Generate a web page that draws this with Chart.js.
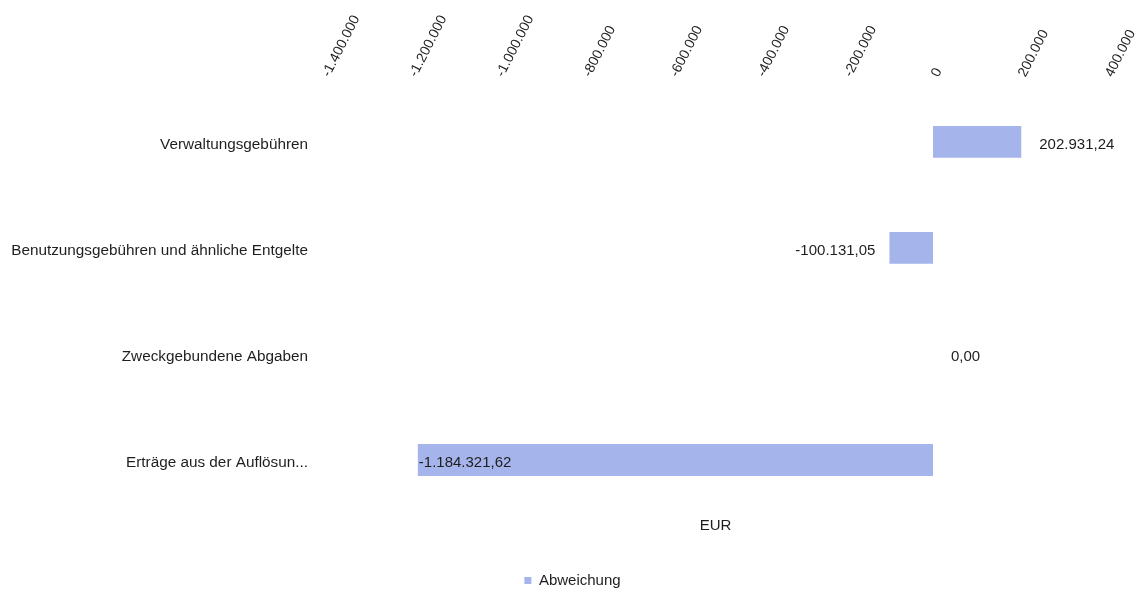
<!DOCTYPE html>
<html>
<head>
<meta charset="utf-8">
<script src="https://cdn.jsdelivr.net/npm/chart.js@4.4.1/dist/chart.umd.min.js"></script>
<style>
html,body{margin:0;padding:0;background:#fff;}
#wrap{width:1145px;height:590px;}
</style>
</head>
<body>
<div id="wrap"><canvas id="c" width="1145" height="590"></canvas></div>
<script>
const categories = ["Verwaltungsgebühren", "Benutzungsgebühren und ähnliche Entgelte", "Zweckgebundene Abgaben", "Erträge aus der Auflösun..."];
const abweichung = [202931.24, -100131.05, 0, -1184321.62];
const seriesName = "Abweichung";
const axisTitle = "EUR";
const xMin = -1400000, xMax = 400000, xStep = 200000;

const barColor = "rgb(166,180,236)";
const FONT = "'Liberation Sans', Arial, sans-serif";
const TXT = "#1e1e1e";

const fmtTick = v => new Intl.NumberFormat('de-DE', {maximumFractionDigits: 0}).format(v);
const fmtVal = v => new Intl.NumberFormat('de-DE', {minimumFractionDigits: 2, maximumFractionDigits: 2}).format(v);

const valueLabels = {
  id: 'valueLabels',
  afterDatasetsDraw(chart) {
    const ctx = chart.ctx;
    const meta = chart.getDatasetMeta(0);
    const area = chart.chartArea;
    ctx.save();
    ctx.font = "15px " + FONT;
    ctx.fillStyle = TXT;
    ctx.textBaseline = "middle";
    meta.data.forEach((bar, i) => {
      const v = chart.data.datasets[0].data[i];
      const txt = fmtVal(v);
      const w = ctx.measureText(txt).width;
      const y = bar.y + 3;
      if (v >= 0) {
        ctx.textAlign = "left";
        ctx.fillText(txt, bar.x + 18, y);
      } else {
        const outside = bar.x - 14 - w;
        if (outside < area.left) {
          ctx.textAlign = "left";
          ctx.fillText(txt, bar.x + 1, y);
        } else {
          ctx.textAlign = "right";
          ctx.fillText(txt, bar.x - 14, y);
        }
      }
    });
    ctx.restore();
  }
};

new Chart(document.getElementById('c'), {
  type: 'bar',
  data: {
    labels: categories,
    datasets: [{
      label: seriesName,
      data: abweichung,
      backgroundColor: barColor,
      borderWidth: 0,
      barPercentage: 0.30,
      categoryPercentage: 1.0,
      xAxisID: 'x'
    }]
  },
  options: {
    indexAxis: 'y',
    responsive: false,
    animation: false,
    devicePixelRatio: 1,
    layout: { padding: { left: 10, right: 10, top: 3.5, bottom: -8 } },
    plugins: {
      legend: {
        position: 'bottom',
        labels: {
          boxWidth: 7, boxHeight: 7, padding: 1,
          color: TXT,
          font: { family: FONT, size: 15 }
        }
      },
      tooltip: { enabled: false }
    },
    scales: {
      x: {
        position: 'top',
        min: xMin, max: xMax,
        grid: { display: false, drawTicks: false },
        border: { display: false },
        afterFit: s => { s.paddingLeft = 0; s.paddingRight = 38; },
        ticks: {
          stepSize: xStep,
          minRotation: 63, maxRotation: 63,
          padding: 9,
          labelOffset: 17,
          color: TXT,
          font: { family: FONT, size: 14 },
          callback: v => fmtTick(v)
        }
      },
      x2: {
        position: 'bottom',
        type: 'linear',
        min: xMin, max: xMax,
        grid: { display: false, drawTicks: false },
        border: { display: false },
        afterFit: s => { s.paddingLeft = 0; s.paddingRight = 0; },
        ticks: { display: false },
        title: { display: true, text: axisTitle, color: TXT, font: { family: FONT, size: 15 }, padding: { top: 4, bottom: 37 } }
      },
      y: {
        grid: { display: false, drawTicks: false },
        border: { display: false },
        afterFit: s => { s.width = 314; },
        ticks: {
          padding: 16,
          labelOffset: 3,
          color: TXT,
          font: { family: FONT, size: 15.3 }
        }
      }
    }
  },
  plugins: [valueLabels]
});
</script>
</body>
</html>
